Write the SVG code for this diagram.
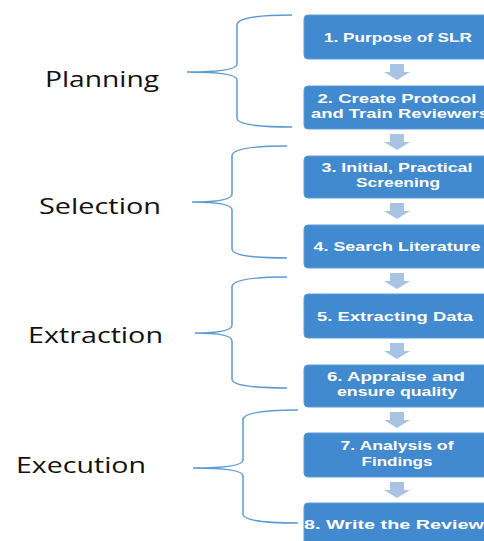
<svg xmlns="http://www.w3.org/2000/svg" width="484" height="541" viewBox="0 0 484 541">
<style>
.box{fill:#418AD0;stroke:#5C9BD8;stroke-width:1}
.bt{font-family:"Liberation Sans",Arial,sans-serif;font-weight:bold;font-size:13px;fill:#FFFFFF;text-anchor:middle}
.lbl{font-family:"Open Sans","Noto Sans",sans-serif;font-size:21px;fill:#111111}
.arr{fill:#A9C3E5}
.brace{fill:none;stroke:#5B9BD5;stroke-width:1.5}
</style>
<rect width="484" height="541" fill="#FFFFFF"/>
<g id="connectors">
<path class="arr" d="M390,64 H404 V72 H410 L397,80 L384,72 H390 Z"/>
<path class="arr" d="M390,134 H404 V142 H410 L397,150 L384,142 H390 Z"/>
<path class="arr" d="M390,203 H404 V211 H410 L397,219 L384,211 H390 Z"/>
<path class="arr" d="M390,273 H404 V281 H410 L397,289 L384,281 H390 Z"/>
<path class="arr" d="M390,343 H404 V351 H410 L397,359 L384,351 H390 Z"/>
<path class="arr" d="M390,412 H404 V420 H410 L397,428 L384,420 H390 Z"/>
<path class="arr" d="M390,482 H404 V490 H410 L397,498 L384,490 H390 Z"/>
</g>
<g id="brace-planning">
<path class="brace" d="M292,15 Q237,15 237,25 L237,64 Q237,72 187,72 Q237,72 237,80 L237,118 Q237,127 292,127"/>
<text class="lbl" x="45" y="87" textLength="114" lengthAdjust="spacingAndGlyphs">Planning</text>
</g>
<g id="brace-selection">
<path class="brace" d="M287,146 Q232,146 232,156 L232,194 Q232,202 192,202 Q232,202 232,210 L232,249 Q232,258 287,258"/>
<text class="lbl" x="39" y="214" textLength="122" lengthAdjust="spacingAndGlyphs">Selection</text>
</g>
<g id="brace-extraction">
<path class="brace" d="M287,277 Q232,277 232,287 L232,325 Q232,333 195,333 Q232,333 232,341 L232,379 Q232,388 287,388"/>
<text class="lbl" x="28" y="343" textLength="135" lengthAdjust="spacingAndGlyphs">Extraction</text>
</g>
<g id="brace-execution">
<path class="brace" d="M298,410 Q243,410 243,420 L243,460 Q243,468 193,468 Q243,468 243,476 L243,514 Q243,523 298,523"/>
<text class="lbl" x="16" y="473" textLength="130" lengthAdjust="spacingAndGlyphs">Execution</text>
</g>
<g id="node1">
<rect class="box" x="304" y="15" width="188" height="44" rx="4"/>
<text class="bt" x="398" y="42" textLength="148" lengthAdjust="spacingAndGlyphs">1. Purpose of SLR</text>
</g>
<g id="node2">
<rect class="box" x="304" y="86" width="188" height="43" rx="4"/>
<text class="bt" x="397" y="103" textLength="159" lengthAdjust="spacingAndGlyphs">2. Create Protocol</text>
<text class="bt" x="400" y="118" textLength="178" lengthAdjust="spacingAndGlyphs">and Train Reviewers</text>
</g>
<g id="node3">
<rect class="box" x="304" y="156" width="188" height="42" rx="4"/>
<text class="bt" x="397" y="172" textLength="151" lengthAdjust="spacingAndGlyphs">3. Initial, Practical</text>
<text class="bt" x="398" y="187" textLength="84" lengthAdjust="spacingAndGlyphs">Screening</text>
</g>
<g id="node4">
<rect class="box" x="304" y="225" width="188" height="43" rx="4"/>
<text class="bt" x="397" y="251" textLength="167" lengthAdjust="spacingAndGlyphs">4. Search Literature</text>
</g>
<g id="node5">
<rect class="box" x="304" y="294" width="188" height="44" rx="4"/>
<text class="bt" x="395" y="321" textLength="156" lengthAdjust="spacingAndGlyphs">5. Extracting Data</text>
</g>
<g id="node6">
<rect class="box" x="304" y="365" width="188" height="42" rx="4"/>
<text class="bt" x="396" y="381" textLength="138" lengthAdjust="spacingAndGlyphs">6. Appraise and</text>
<text class="bt" x="397" y="396" textLength="120" lengthAdjust="spacingAndGlyphs">ensure quality</text>
</g>
<g id="node7">
<rect class="box" x="304" y="433" width="188" height="44" rx="4"/>
<text class="bt" x="397" y="450" textLength="113" lengthAdjust="spacingAndGlyphs">7. Analysis of</text>
<text class="bt" x="397" y="466" textLength="71" lengthAdjust="spacingAndGlyphs">Findings</text>
</g>
<g id="node8">
<rect class="box" x="304" y="503" width="188" height="44" rx="4"/>
<text class="bt" x="394" y="529" textLength="180" lengthAdjust="spacingAndGlyphs">8. Write the Review</text>
</g>
</svg>
